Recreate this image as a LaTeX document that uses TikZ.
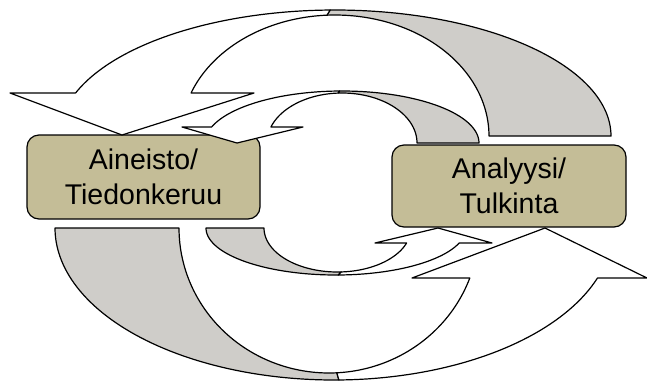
\documentclass[tikz,border=0pt]{standalone}
\usepackage{fontspec}
\setmainfont{Liberation Sans}
\definecolor{boxtan}{HTML}{C4BD97}
\definecolor{backgray}{HTML}{CFCDC9}
\begin{document}
\begin{tikzpicture}[x=1pt,y=-1pt,
  band/.style={draw=black,line width=1.2pt,line join=round},
  backband/.style={band,fill=backgray},
  frontband/.style={band,fill=white},
  stagebox/.style={draw=black,line width=1.2pt,fill=boxtan,rounded corners=12pt,
     align=center,font=\fontsize{28.5}{35}\selectfont,inner sep=0pt}]
\useasboundingbox (0,0) rectangle (647,381);
\fill[white] (0,0) rectangle (647,381);

% boxes
\node[stagebox,minimum width=233pt,minimum height=84pt] (aineisto) at (143.5,177) {Aineisto/\\Tiedonkeruu};
\node[stagebox,minimum width=234pt,minimum height=82pt] (analyysi) at (509,186) {Analyysi/\\Tulkinta};

% big top arrow (to Aineisto)
\filldraw[backband] plot[domain=0:91,samples=60] ({335+276*cos(\x)},{136-126*sin(\x)})
  -- plot[domain=93:0,samples=60] ({335+154*cos(\x)},{136-121*sin(\x)}) -- cycle;
\filldraw[frontband] plot[domain=91:160,samples=60] ({335+276*cos(\x)},{136-126*sin(\x)})
  -- (10,93) -- (122,135) -- (254,93)
  -- plot[domain=159.2:93,samples=60] ({335+154*cos(\x)},{136-121*sin(\x)}) -- cycle;

% small top arrow (to Aineisto)
\filldraw[backband] plot[domain=0:91,samples=50] ({342+137*cos(\x)},{143-52*sin(\x)})
  -- plot[domain=93:0,samples=50] ({342+75*cos(\x)},{143-50*sin(\x)}) -- cycle;
\filldraw[frontband] plot[domain=91:162.1,samples=50] ({342+137*cos(\x)},{143-52*sin(\x)})
  -- (182,127) -- (237,143) -- (303,127)
  -- plot[domain=161.3:93,samples=50] ({342+75*cos(\x)},{143-50*sin(\x)}) -- cycle;

% big bottom arrow (to Analyysi)
\filldraw[backband] plot[domain=180:89,samples=60] ({334+279*cos(\x)},{228+152*sin(\x)})
  -- plot[domain=87:180,samples=60] ({329+150*cos(\x)},{228+145*sin(\x)}) -- cycle;
\filldraw[frontband] plot[domain=89:19.2,samples=60] ({334+279*cos(\x)},{228+152*sin(\x)})
  -- (647,278) -- (545,228) -- (412,278)
  -- plot[domain=20.2:87,samples=60] ({329+150*cos(\x)},{228+145*sin(\x)}) -- cycle;

% small bottom arrow (to Analyysi)
\filldraw[backband] plot[domain=180:89,samples=50] ({336+130*cos(\x)},{228+47*sin(\x)})
  -- plot[domain=87:180,samples=50] ({337.5+73.5*cos(\x)},{228+44*sin(\x)}) -- cycle;
\filldraw[frontband] plot[domain=89:18.6,samples=50] ({336+130*cos(\x)},{228+47*sin(\x)})
  -- (492,243) -- (438,228) -- (375,243)
  -- plot[domain=19.9:87,samples=50] ({337.5+73.5*cos(\x)},{228+44*sin(\x)}) -- cycle;
\end{tikzpicture}
\end{document}
